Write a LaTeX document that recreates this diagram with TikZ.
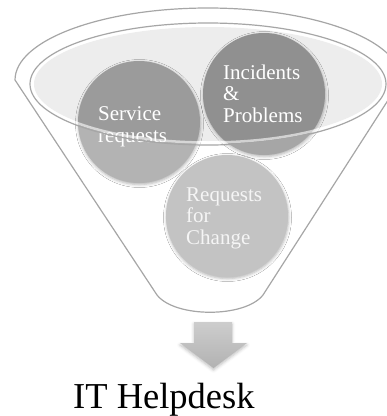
\documentclass[tikz,border=0pt]{standalone}
\usepackage{fontspec}
\setmainfont{Liberation Serif}
\usetikzlibrary{shadows.blur}

\definecolor{linegray}{HTML}{A6A6A6}
\definecolor{rimfill}{HTML}{EDEDED}
\definecolor{srgray}{HTML}{B3B3B3}
\definecolor{ipgray}{HTML}{A6A6A6}
\definecolor{rfcgray}{HTML}{C3C3C3}
\definecolor{arrowtop}{HTML}{CDCDCD}
\definecolor{arrowbot}{HTML}{B2B2B2}

\begin{document}
\begin{tikzpicture}[x=1pt,y=-1pt,
  outline/.style={draw=linegray, line width=1.2pt},
  bubble/.style={circle, minimum size=122pt, inner sep=0pt,
    blur shadow={shadow xshift=0.5pt, shadow yshift=-1.5pt,
      shadow blur radius=3pt, shadow opacity=30}},
  bubbletext/.style={anchor=base west, inner sep=0pt, text=white,
    font=\fontsize{21}{21.5}\selectfont},
]
\useasboundingbox (0,0) rectangle (387,416);
\clip (0,0) rectangle (387,416);

% funnel body
\draw[outline, fill=white, line join=round]
  (15,80) arc[start angle=180, end angle=360, x radius=193, y radius=72]
  -- (263,295) .. controls (245,318) and (175,318) .. (157,295) -- cycle;

% rim interior
\fill[rimfill] (208,84) ellipse [x radius=174, y radius=57];

% the three bubbles
\node[bubble, fill=srgray]  (sr)  at (139,122) {};
\node[bubble, fill=ipgray]  (ip)  at (264,94)  {};
\node[bubble, fill=rfcgray] (rfc) at (227,216) {};

% parts of the bubbles seen through the rim are darker
\begin{scope}
  \clip (208,84) ellipse [x radius=177, y radius=60];
  \fill[black, opacity=0.13] (sr.center) circle [radius=61];
  \fill[black, opacity=0.13] (ip.center) circle [radius=61];
\end{scope}

% bubble labels
\node[bubbletext] (srt) at (98,120.7)
  {\parbox[t]{90pt}{\raggedright Service\\requests}};
\node[bubbletext] (ipt) at (223,79.3)
  {\parbox[t]{90pt}{\raggedright Incidents\\\&\\Problems}};
\node[bubbletext, text=white!96!black] (rfct) at (186,201)
  {\parbox[t]{90pt}{\raggedright Requests\\for\\Change}};

% rim edge, drawn over the bubbles
\draw[white, line width=2.5pt, opacity=0.6] (208,84) ellipse [x radius=175.5, y radius=58.5];
\draw[outline] (208,84) ellipse [x radius=178, y radius=61];

% down arrow
\path[top color=arrowtop, bottom color=arrowbot,
  blur shadow={shadow xshift=0pt, shadow yshift=-2pt,
    shadow blur radius=3pt, shadow opacity=25}]
  (194,322) -- (232,322) -- (232,343) -- (247,343) -- (213.5,368)
  -- (180,343) -- (194,343) -- cycle;

% result
\node[anchor=base west, inner sep=0pt, font=\fontsize{36.5}{40}\selectfont]
  (hd) at (73,408) {IT Helpdesk};
\end{tikzpicture}
\end{document}
